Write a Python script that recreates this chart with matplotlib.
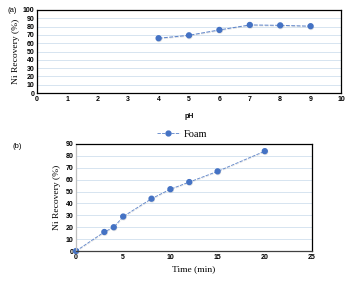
import matplotlib.pyplot as plt
import matplotlib.patheffects as pe
from matplotlib.lines import Line2D

# (a) effect of pH
ph = [4, 5, 6, 7, 8, 9]
rec_ph = [66, 69.5, 76, 82, 81.5, 80.5]

# (b) effect of time
time_min = [0, 3, 4, 5, 8, 10, 12, 15, 20]
rec_time = [0, 16, 20, 29, 44, 52, 58, 67, 84]

blue = "#4472C4"
serif = "Liberation Serif"
sans = "Liberation Sans"
shadow = [pe.SimpleLineShadow(offset=(0.3, -0.6), shadow_color="#b0b0b0", alpha=0.35), pe.Normal()]

fig = plt.figure(figsize=(3.53, 2.84), dpi=100)
W, H = 353, 284

def box(l, t, r, b):
    return [l / W, 1 - b / H, (r - l) / W, (b - t) / H]

def style(ax):
    ax.grid(axis="y", color="#d6e4f0", lw=0.7)
    ax.set_axisbelow(True)
    for s in ax.spines.values():
        s.set_color("black")
        s.set_linewidth(0.9)
    ax.tick_params(length=0, labelsize=5, pad=2)
    for lab in ax.get_xticklabels() + ax.get_yticklabels():
        lab.set_fontfamily(sans)
        lab.set_fontweight("bold")

# top chart
ax1 = fig.add_axes(box(37, 10, 341, 93))
ax1.plot(ph, rec_ph, color="#5b82c8", lw=0.7, ls=(0, (4, 1.5)), marker="o", ms=3.5,
         mfc=blue, mec=blue, path_effects=shadow)
ax1.set_xlim(0, 10)
ax1.set_ylim(0, 100)
ax1.set_xticks(range(0, 11))
ax1.set_yticks(range(0, 101, 10))
style(ax1)
ax1.set_ylabel("Ni Recovery (%)", fontfamily=serif, fontsize=6.8, labelpad=2)
ax1.set_xlabel("pH", fontfamily=sans, fontweight="bold", fontsize=5, labelpad=7)
fig.text(7 / W, 1 - 11 / H, "(a)", fontfamily=sans, fontsize=5.5, va="center")

# bottom chart
ax2 = fig.add_axes(box(76, 144, 312, 251))
ax2.plot(time_min, rec_time, color="#5b82c8", lw=0.6, ls=(0, (4, 1.5)), marker="o", ms=3.5,
         mfc=blue, mec=blue, clip_on=False, path_effects=shadow)
ax2.set_xlim(0, 25)
ax2.set_ylim(0, 90)
ax2.set_xticks(range(0, 26, 5))
ax2.set_yticks(range(0, 91, 10))
style(ax2)
ax2.spines["left"].set_color("#bfbfbf")
ax2.spines["bottom"].set_color("#404040")
ax2.set_ylabel("Ni Recovery (%)", fontfamily=serif, fontsize=6.8, labelpad=3)
ax2.set_xlabel("Time (min)", fontfamily=serif, fontsize=6.8, labelpad=3)
fig.text(12 / W, 1 - 146 / H, "(b)", fontfamily=sans, fontsize=5.5, va="center")

handle = Line2D([], [], color="#5b82c8", lw=0.6, ls=(0, (4, 1.5)), marker="o", ms=3.5,
                mfc=blue, mec=blue)
fig.legend([handle], ["Foam"], loc="center", bbox_to_anchor=(182 / W, 1 - 134 / H),
           frameon=False, prop={"family": serif, "size": 7.5}, handlelength=2.2,
           handletextpad=0.4)

fig.savefig("out.png", dpi=100)
